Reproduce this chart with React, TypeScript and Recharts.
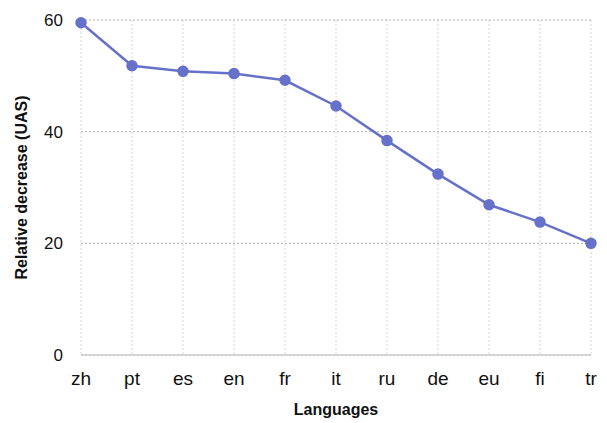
import { LineChart, Line, XAxis, YAxis, CartesianGrid } from 'recharts';

const languages = ['zh', 'pt', 'es', 'en', 'fr', 'it', 'ru', 'de', 'eu', 'fi', 'tr'];
const decrease = [59.5, 51.8, 50.8, 50.4, 49.2, 44.6, 38.4, 32.4, 26.9, 23.8, 20.0];
const yTicks = [0, 20, 40, 60];

const data = languages.map((lang, i) => ({ lang, value: decrease[i] }));

const FONT = '"Liberation Sans", Arial, Helvetica, sans-serif';
const LINE_COLOR = '#6672c9';

export default function App() {
  return (
    <div style={{ position: 'absolute', left: 0, top: 0, fontFamily: FONT }}>
      <LineChart
        width={607}
        height={423}
        data={data}
        margin={{ top: 20, right: 16, bottom: 38, left: 21 }}
      >
        <CartesianGrid horizontal={false} stroke="#d6d6d6" strokeDasharray="2 2" />
        <CartesianGrid vertical={false} stroke="#b0b0b0" strokeDasharray="2 2" />
        <XAxis
          dataKey="lang"
          height={30}
          stroke="#cccccc"
          strokeWidth={1.5}
          tickLine={false}
          tickMargin={11}
          tick={{ fill: '#111', fontSize: 19, fontFamily: FONT }}
          label={{
            value: 'Languages',
            position: 'bottom',
            offset: 19,
            style: { fill: '#111', fontSize: 16, fontWeight: 'bold', fontFamily: FONT },
          }}
        />
        <YAxis
          width={60}
          domain={[0, 60]}
          ticks={yTicks}
          axisLine={false}
          tickLine={false}
          tickMargin={12}
          tick={{ fill: '#111', fontSize: 17, fontFamily: FONT }}
          label={{
            value: 'Relative decrease (UAS)',
            angle: -90,
            position: 'insideLeft',
            offset: 0,
            style: { textAnchor: 'middle', fill: '#111', fontSize: 16, fontWeight: 'bold', fontFamily: FONT },
          }}
        />
        <Line
          type="linear"
          dataKey="value"
          stroke={LINE_COLOR}
          strokeWidth={2.5}
          dot={{ r: 5, fill: LINE_COLOR, stroke: LINE_COLOR, strokeWidth: 1.5 }}
          isAnimationActive={false}
        />
      </LineChart>
    </div>
  );
}
